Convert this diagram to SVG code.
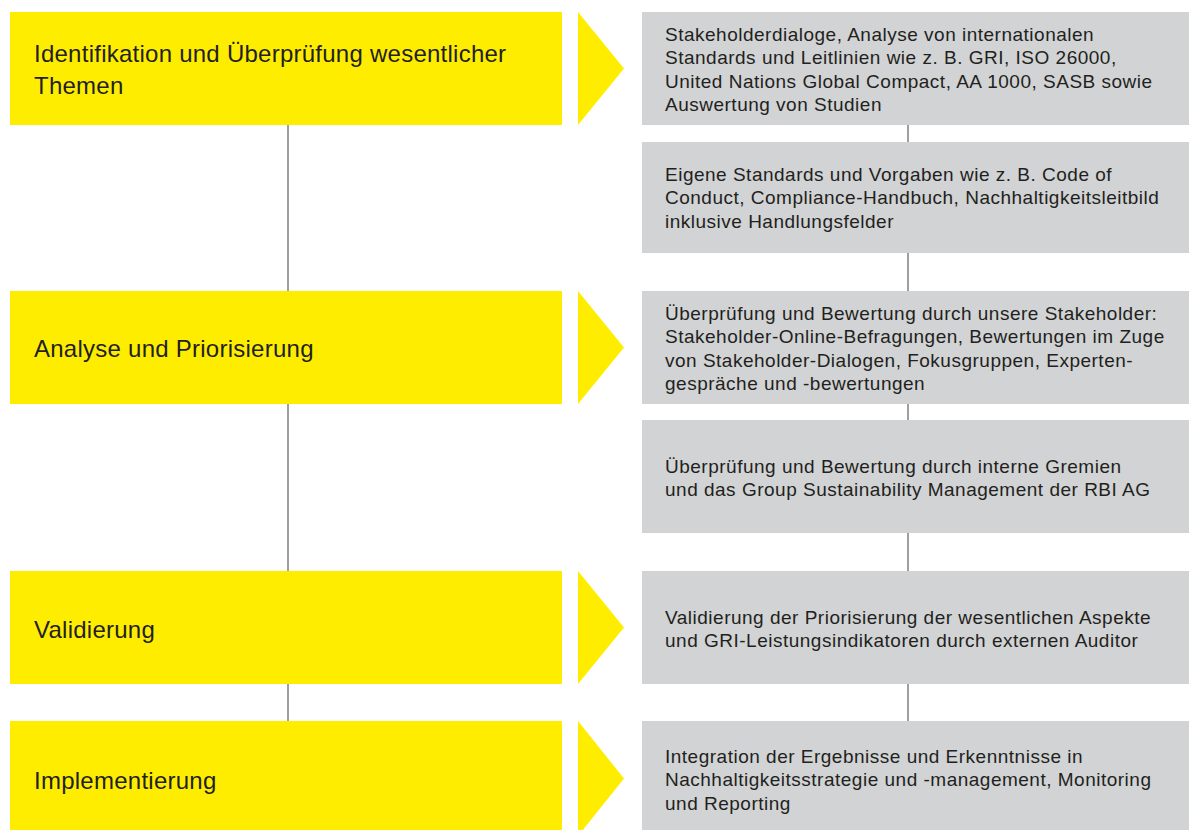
<svg xmlns="http://www.w3.org/2000/svg" width="1189" height="830" viewBox="0 0 1189 830">
<style>
.y{fill:#FFED00}
.g{fill:#D1D3D4}
.t1{font-family:"Liberation Sans",Arial,sans-serif;font-size:24px;fill:#231F20;letter-spacing:0.25px}
.t2{font-family:"Liberation Sans",Arial,sans-serif;font-size:19px;fill:#231F20;letter-spacing:0.5px}
.c{stroke:#7F7F7F;stroke-width:1.5;fill:none}
</style>
<rect width="1189" height="830" fill="#FFFFFF"/>
<g id="connectors">
<line class="c" x1="288" y1="125" x2="288" y2="291"/>
<line class="c" x1="288" y1="404" x2="288" y2="571"/>
<line class="c" x1="288" y1="684" x2="288" y2="721"/>
<line class="c" x1="908" y1="125" x2="908" y2="142"/>
<line class="c" x1="908" y1="253" x2="908" y2="291"/>
<line class="c" x1="908" y1="404" x2="908" y2="420"/>
<line class="c" x1="908" y1="533" x2="908" y2="571"/>
<line class="c" x1="908" y1="684" x2="908" y2="721"/>
</g>
<g id="step1">
<rect class="y" x="10" y="12" width="552" height="113"/>
<text class="t1" x="34" y="62">Identifikation und Überprüfung wesentlicher</text>
<text class="t1" x="34" y="93.5">Themen</text>
</g>
<g id="arrow1"><polygon class="y" points="578,12 624,68.5 578,125"/></g>
<g id="step2">
<rect class="y" x="10" y="291" width="552" height="113"/>
<text class="t1" x="34" y="357">Analyse und Priorisierung</text>
</g>
<g id="arrow2"><polygon class="y" points="578,291 624,347.5 578,404"/></g>
<g id="step3">
<rect class="y" x="10" y="571" width="552" height="113"/>
<text class="t1" x="34" y="637.5">Validierung</text>
</g>
<g id="arrow3"><polygon class="y" points="578,571 624,627.5 578,684"/></g>
<g id="step4">
<rect class="y" x="10" y="721" width="552" height="115"/>
<text class="t1" x="34" y="788.5">Implementierung</text>
</g>
<g id="arrow4"><polygon class="y" points="578,721 624,778.5 578,836"/></g>
<g id="info1">
<rect class="g" x="642" y="12" width="547" height="113"/>
<text class="t2" x="665" y="40.5">Stakeholderdialoge, Analyse von internationalen</text>
<text class="t2" x="665" y="64">Standards und Leitlinien wie z. B. GRI, ISO 26000,</text>
<text class="t2" x="665" y="87.5">United Nations Global Compact, AA 1000, SASB sowie</text>
<text class="t2" x="665" y="111">Auswertung von Studien</text>
</g>
<g id="info2">
<rect class="g" x="642" y="142" width="547" height="111"/>
<text class="t2" x="665" y="180.5">Eigene Standards und Vorgaben wie z. B. Code of</text>
<text class="t2" x="665" y="204">Conduct, Compliance-Handbuch, Nachhaltigkeitsleitbild</text>
<text class="t2" x="665" y="227.5">inklusive Handlungsfelder</text>
</g>
<g id="info3">
<rect class="g" x="642" y="291" width="547" height="113"/>
<text class="t2" x="665" y="319.5">Überprüfung und Bewertung durch unsere Stakeholder:</text>
<text class="t2" x="665" y="343">Stakeholder-Online-Befragungen, Bewertungen im Zuge</text>
<text class="t2" x="665" y="366.5">von Stakeholder-Dialogen, Fokusgruppen, Experten-</text>
<text class="t2" x="665" y="390">gespräche und -bewertungen</text>
</g>
<g id="info4">
<rect class="g" x="642" y="420" width="547" height="113"/>
<text class="t2" x="665" y="472.5">Überprüfung und Bewertung durch interne Gremien</text>
<text class="t2" x="665" y="496">und das Group Sustainability Management der RBI AG</text>
</g>
<g id="info5">
<rect class="g" x="642" y="571" width="547" height="113"/>
<text class="t2" x="665" y="623.5">Validierung der Priorisierung der wesentlichen Aspekte</text>
<text class="t2" x="665" y="647">und GRI-Leistungsindikatoren durch externen Auditor</text>
</g>
<g id="info6">
<rect class="g" x="642" y="721" width="547" height="115"/>
<text class="t2" x="665" y="762.5">Integration der Ergebnisse und Erkenntnisse in</text>
<text class="t2" x="665" y="786">Nachhaltigkeitsstrategie und -management, Monitoring</text>
<text class="t2" x="665" y="809.5">und Reporting</text>
</g>
</svg>
